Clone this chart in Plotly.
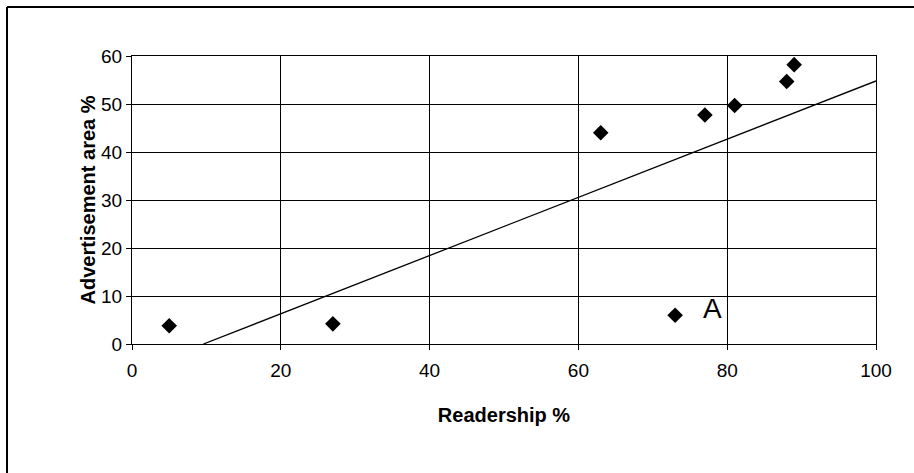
import plotly.graph_objects as go

# Readership vs advertisement area, one point per publication
readership = [5, 27, 63, 73, 77, 81, 88, 89]
ad_area = [3.8, 4.2, 44.0, 6.0, 47.7, 49.7, 54.7, 58.2]

# Fitted trend line end points
trend_x = [9.6, 100]
trend_y = [0, 54.8]

# Labelled outlier
outlier_label = "A"
outlier_pos = (78.0, 7.3)

x_ticks = [0, 20, 40, 60, 80, 100]
y_ticks = [0, 10, 20, 30, 40, 50, 60]

FONT = "Liberation Sans, Arial, sans-serif"

fig = go.Figure()

fig.add_trace(go.Scatter(
    x=trend_x, y=trend_y, mode="lines",
    line=dict(color="black", width=1.3),
    hoverinfo="skip", showlegend=False,
))

fig.add_trace(go.Scatter(
    x=readership, y=ad_area, mode="markers",
    marker=dict(symbol="diamond", size=12, color="black"),
    showlegend=False,
))

fig.add_annotation(
    x=outlier_pos[0], y=outlier_pos[1], text=outlier_label,
    showarrow=False, font=dict(family=FONT, size=28, color="black"),
)

axis_common = dict(
    showgrid=True, gridcolor="black", gridwidth=1,
    showline=True, linecolor="black", linewidth=1, mirror=True,
    ticks="outside", ticklen=5, tickcolor="black", tickwidth=1,
    zeroline=False,
    tickfont=dict(family=FONT, size=19, color="black"),
)

fig.update_xaxes(
    range=[0, 100], tickvals=x_ticks, ticklabelstandoff=4,
    title=dict(text="<b>Readership %</b>", standoff=28,
               font=dict(family=FONT, size=20, color="black")),
    **axis_common,
)
fig.update_yaxes(
    range=[0, 60], tickvals=y_ticks,
    title=dict(text="<b>Advertisement area %</b>", standoff=0,
               font=dict(family=FONT, size=20, color="black")),
    **axis_common,
)

# Frame around the chart: only top and left edges fall inside the page
frame = dict(type="line", xref="paper", yref="paper",
             line=dict(color="black", width=2))
fig.add_shape(x0=-0.168, x1=1.06, y0=1.17, y1=1.17, **frame)
fig.add_shape(x0=-0.168, x1=-0.168, y0=1.17, y1=-0.46, **frame)

fig.update_layout(
    width=914, height=473,
    margin=dict(l=132, r=38, t=56, b=129),
    paper_bgcolor="white", plot_bgcolor="white",
    font=dict(family=FONT, color="black"),
)

fig.write_html("out.html")
